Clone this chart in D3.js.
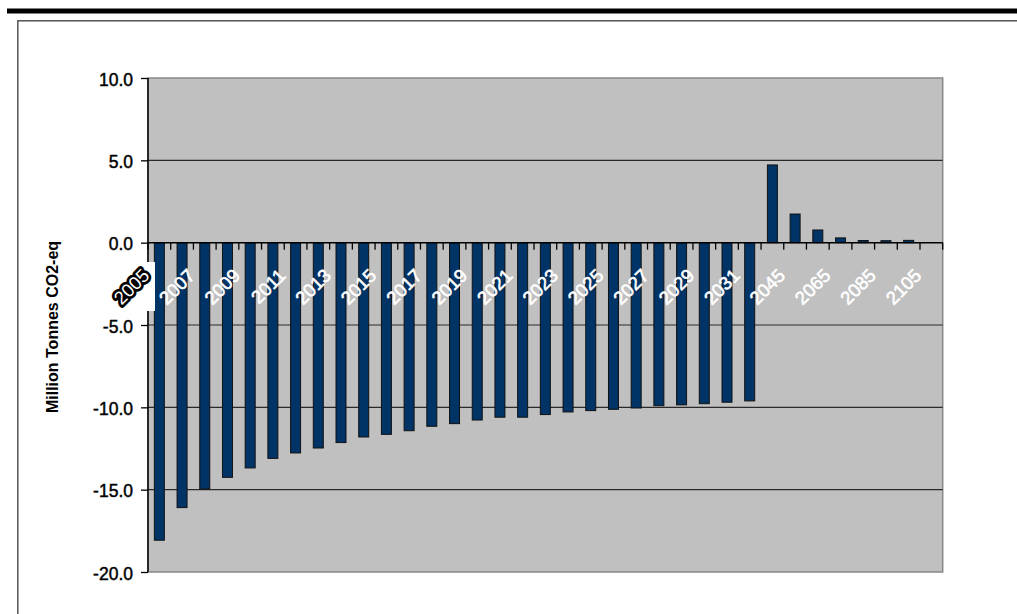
<!DOCTYPE html>
<html>
<head>
<meta charset="utf-8">
<script src="https://d3js.org/d3.v7.min.js"></script>
<style>
  html, body { margin: 0; padding: 0; background: #fff; }
  svg { display: block; font-family: "Liberation Sans", Arial, sans-serif; }
</style>
</head>
<body>
<svg id="chart" width="1017" height="614"></svg>
<script>
// ---- data ----
const categories = ["2005","2006","2007","2008","2009","2010","2011","2012","2013","2014",
  "2015","2016","2017","2018","2019","2020","2021","2022","2023","2024","2025","2026",
  "2027","2028","2029","2030","2031","2035","2045","2055","2065","2075","2085","2095","2105"];
const values = [-18.07,-16.09,-14.96,-14.25,-13.68,-13.10,-12.77,-12.47,-12.14,-11.80,
  -11.64,-11.42,-11.15,-10.99,-10.77,-10.60,-10.60,-10.44,-10.28,-10.20,-10.12,-10.04,
  -9.90,-9.85,-9.78,-9.69,-9.61,4.72,1.74,0.77,0.29,0.13,0.12,0.14,0.0];
const labeledCategories = ["2005","2007","2009","2011","2013","2015","2017","2019","2021",
  "2023","2025","2027","2029","2031","2045","2065","2085","2105"];
const yTicks = [10, 5, 0, -5, -10, -15, -20];
const yTitle = "Million Tonnes CO2-eq";

// ---- layout ----
const svg = d3.select("#chart");
const pLeft = 148, pRight = 942.7, pTop = 78, pBottom = 572;

const x = d3.scaleBand().domain(categories).range([pLeft, pRight]).padding(0);
const y = d3.scaleLinear().domain([-20, 10]).range([pBottom, pTop]);
const y0 = y(0);

// outer frame
svg.append("line").attr("x1", 7).attr("x2", 1017).attr("y1", 11).attr("y2", 11)
  .attr("stroke", "#000").attr("stroke-width", 5);
svg.append("rect").attr("x", 17.8).attr("y", 20.8).attr("width", 1100).attr("height", 700)
  .attr("fill", "none").attr("stroke", "#555").attr("stroke-width", 1.5);

// plot area
svg.append("rect").attr("x", pLeft).attr("y", pTop).attr("width", pRight - pLeft).attr("height", pBottom - pTop)
  .attr("fill", "#c0c0c0").attr("stroke", "#888").attr("stroke-width", 1.5);

// gridlines
svg.append("g").selectAll("line").data(yTicks.filter(d => d !== 10 && d !== -20 && d !== 0))
  .join("line")
  .attr("x1", pLeft).attr("x2", pRight)
  .attr("y1", d => y(d)).attr("y2", d => y(d))
  .attr("stroke", "#2a2a2a").attr("stroke-width", 1.2);

// bars
const bw = x.bandwidth() * 0.44;
svg.append("g").selectAll("rect").data(categories.map((c, i) => ({c, v: values[i]})))
  .join("rect")
  .attr("x", d => x(d.c) + (x.bandwidth() - bw) / 2)
  .attr("width", bw)
  .attr("y", d => Math.min(y(d.v), y0))
  .attr("height", d => Math.abs(y(d.v) - y0))
  .attr("fill", "#003366")
  .attr("stroke", "#111")
  .attr("stroke-width", 1);

// y axis
const yAxis = d3.axisLeft(y).tickValues(yTicks).tickSize(7).tickFormat(d3.format(".1f"));
const gy = svg.append("g").attr("transform", `translate(${pLeft},0)`).call(yAxis);
gy.select(".domain").attr("stroke", "#000").attr("stroke-width", 1.5).attr("d", `M0,${pTop}V${pBottom}`);
gy.selectAll(".tick line").attr("stroke", "#000").attr("stroke-width", 1.3);
gy.selectAll(".tick text")
  .attr("x", -15).attr("dy", null).attr("y", 7)
  .attr("font-size", 17.5).attr("fill", "#000")
  .attr("stroke", "#000").attr("stroke-width", 0.45)
  .attr("font-family", "Liberation Sans, Arial, sans-serif")
  .text(d => d3.format(".1f")(d).replace("−", "-"));

// x axis at zero
const boundaries = d3.range(categories.length + 1).map(i => pLeft + i * x.bandwidth());
svg.append("line").attr("x1", pLeft).attr("x2", pRight).attr("y1", y0).attr("y2", y0)
  .attr("stroke", "#000").attr("stroke-width", 1.5);
svg.append("g").selectAll("line").data(boundaries).join("line")
  .attr("x1", d => d).attr("x2", d => d)
  .attr("y1", y0).attr("y2", y0 + 7)
  .attr("stroke", "#000").attr("stroke-width", 1.3);

// white box behind first label
svg.append("rect").attr("x", 100).attr("y", 262).attr("width", 55).attr("height", 49).attr("fill", "#fff");

// x labels
const xl = svg.append("g").selectAll("text").data(labeledCategories).join("text")
  .attr("transform", d => `translate(${x(d) + x.bandwidth() / 2 - 8.8},${y0 + 34}) rotate(-45)`)
  .attr("text-anchor", "end")
  .attr("font-size", 18.5)
  .attr("fill", "#fff")
  .attr("stroke", "#fff").attr("stroke-width", 0.6)
  .text(d => d);
xl.filter(d => d === categories[0])
  .attr("stroke", "#000").attr("stroke-width", 5.5).attr("stroke-linejoin", "round")
  .attr("paint-order", "stroke");

// y title
svg.append("text")
  .attr("transform", `translate(58,${(pTop + pBottom) / 2 + 2}) rotate(-90)`)
  .attr("text-anchor", "middle")
  .attr("font-size", 16).attr("font-weight", "bold").attr("fill", "#000")
  .text(yTitle);
</script>
</body>
</html>
